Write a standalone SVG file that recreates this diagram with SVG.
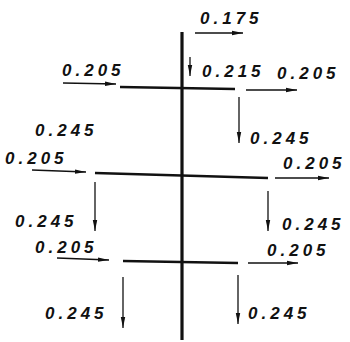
<svg xmlns="http://www.w3.org/2000/svg" width="350" height="342" viewBox="0 0 350 342">
<style>
.lbl{font-family:"Liberation Sans",Arial,sans-serif;font-style:italic;font-weight:bold;font-size:17px;letter-spacing:4px;fill:#111}
.main{stroke:#111;stroke-width:3.2;fill:none;stroke-linecap:butt}
.beam{stroke:#111;stroke-width:2.6;fill:none}
.arr{stroke:#111;stroke-width:1.3;fill:none;marker-end:url(#ah)}
</style>
<defs>
<marker id="ah" markerUnits="userSpaceOnUse" markerWidth="12" markerHeight="6" refX="11" refY="3" orient="auto">
<path d="M0,0.8 L11,3 L0,5.2 Z" fill="#111"/>
</marker>
</defs>
<rect width="350" height="342" fill="#fff"/>
<g id="frame">
<line class="main" x1="182" y1="32" x2="182" y2="340"/>
<line class="beam" x1="120" y1="87" x2="235" y2="89"/>
<line class="beam" x1="95" y1="173" x2="268" y2="178"/>
<line class="beam" x1="123" y1="261" x2="238" y2="263"/>
</g>
<g id="connectors">
<line class="arr" x1="195" y1="33" x2="243" y2="33"/>
<line class="arr" x1="190" y1="57" x2="190" y2="76"/>
<line class="arr" x1="63" y1="83" x2="116" y2="84"/>
<line class="arr" x1="246" y1="90" x2="297" y2="90"/>
<line class="arr" x1="239" y1="97" x2="239" y2="143"/>
<line class="arr" x1="32" y1="170" x2="86" y2="172"/>
<line class="arr" x1="275" y1="178" x2="329" y2="178"/>
<line class="arr" x1="95" y1="182" x2="95" y2="231"/>
<line class="arr" x1="268" y1="191" x2="268" y2="231"/>
<line class="arr" x1="57" y1="258" x2="109" y2="260"/>
<line class="arr" x1="248" y1="263" x2="298" y2="263"/>
<line class="arr" x1="123" y1="277" x2="123" y2="328"/>
<line class="arr" x1="238" y1="275" x2="238" y2="324"/>
</g>
<g id="labels">
<text class="lbl" x="200" y="24">0.175</text>
<text class="lbl" x="202" y="77">0.215</text>
<text class="lbl" x="277" y="79">0.205</text>
<text class="lbl" x="62" y="76">0.205</text>
<text class="lbl" x="35" y="136">0.245</text>
<text class="lbl" x="250" y="144">0.245</text>
<text class="lbl" x="5" y="164">0.205</text>
<text class="lbl" x="283" y="169">0.205</text>
<text class="lbl" x="15" y="227">0.245</text>
<text class="lbl" x="282" y="230">0.245</text>
<text class="lbl" x="35" y="253">0.205</text>
<text class="lbl" x="267" y="256">0.205</text>
<text class="lbl" x="45" y="319">0.245</text>
<text class="lbl" x="248" y="319">0.245</text>
</g>
</svg>
